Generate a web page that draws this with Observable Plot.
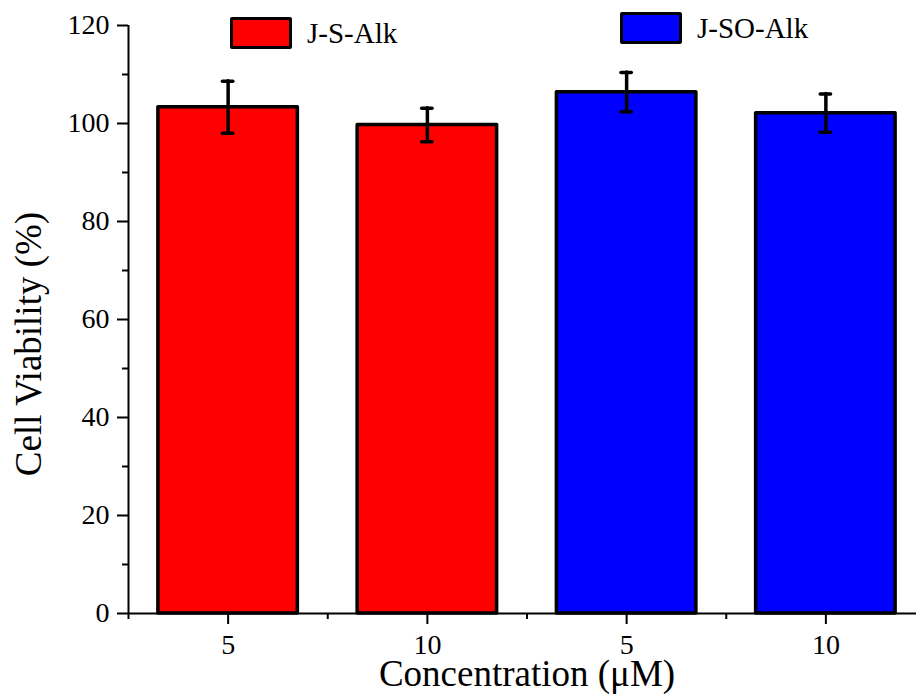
<!DOCTYPE html>
<html><head><meta charset="utf-8">
<script src="https://cdn.jsdelivr.net/npm/d3@7"></script>
<script src="https://cdn.jsdelivr.net/npm/@observablehq/plot@0.6"></script>
<style>
html,body{margin:0;padding:0;background:#fff;overflow:hidden;}
#wrap{position:relative;width:916px;height:697px;overflow:hidden;}
#wrap svg{max-width:none !important;display:block;}
#wrap svg text{font-family:"Liberation Serif","Times New Roman",serif !important;}
.leg{position:absolute;display:flex;align-items:center;font-family:"Liberation Serif","Times New Roman",serif;font-size:29px;color:#000;line-height:1;}
.sw{box-sizing:border-box;width:62px;height:32px;border:3.5px solid #000;border-radius:2px;margin-right:15px;}
</style></head><body><div id="wrap"></div>
<script>
// ---- data ----
const compounds = ["J-S-Alk", "J-S-Alk", "J-SO-Alk", "J-SO-Alk"];
const concentrations = ["5", "10", "5", "10"];
const viability = [103.3, 99.7, 106.4, 102.1];
const errors = [5.3, 3.4, 4.0, 3.9];
const seriesNames = ["J-S-Alk", "J-SO-Alk"];
const seriesColors = ["#FF0000", "#0000FF"];
const yTicks = [0, 20, 40, 60, 80, 100, 120];
const yMinorTicks = [10, 30, 50, 70, 90, 110];
const xTitle = "Concentration (\u03BCM)";
const yTitle = "Cell Viability (%)";

// ---- layout/style constants ----
const FONT = "'Liberation Serif', 'Times New Roman', serif";
const barHalf = 0.35;      // half bar width in category units
const capHalf = 0.026;     // half error cap width in category units
const legendPos = [{left: 230, top: 17}, {left: 620, top: 12}];

const data = compounds.map((c, i) => ({i, compound: c, conc: concentrations[i], v: viability[i], e: errors[i]}));
const xIndex = compounds.map((_, i) => i);
const xBounds = xIndex.map(i => i - 0.5).concat([xIndex.length - 0.5]);

const chart = Plot.plot({
  width: 925, height: 697,
  marginLeft: 128, marginRight: 0, marginTop: 25, marginBottom: 84,
  x: {type: "linear", domain: [-0.5, xIndex.length - 0.5]},
  y: {domain: [0, 120]},
  color: {domain: seriesNames, range: seriesColors},
  style: {fontFamily: FONT, fontSize: "28px", color: "#000", background: "#fff", overflow: "visible"},
  marks: [
    Plot.rectY(data, {x1: d => d.i - barHalf, x2: d => d.i + barHalf, y1: 0, y2: "v", fill: "compound", stroke: "#000", strokeWidth: 3.5, strokeLinejoin: "round"}),
    Plot.ruleX(data, {x: "i", y1: d => d.v - d.e, y2: d => d.v + d.e, stroke: "#000", strokeWidth: 3.5, strokeLinecap: "round"}),
    Plot.ruleY(data, {y: d => d.v + d.e, x1: d => d.i - capHalf, x2: d => d.i + capHalf, stroke: "#000", strokeWidth: 3.5, strokeLinecap: "round"}),
    Plot.ruleY(data, {y: d => d.v - d.e, x1: d => d.i - capHalf, x2: d => d.i + capHalf, stroke: "#000", strokeWidth: 3.5, strokeLinecap: "round"}),
    Plot.ruleX([-0.5], {y1: 0, y2: 120, stroke: "#000", strokeWidth: 2}),
    Plot.ruleY([0], {stroke: "#000", strokeWidth: 2}),
    Plot.axisY(yTicks, {tickSize: 11, tickPadding: 8, strokeWidth: 2, label: null, fontSize: 28, fontFamily: FONT, fill: "#000"}),
    Plot.axisY(yMinorTicks, {tickSize: 6, strokeWidth: 2, label: null, tickFormat: () => ""}),
    Plot.axisX(xIndex, {tickSize: 11, tickPadding: 10, strokeWidth: 2, label: null, fontSize: 28, fontFamily: FONT, fill: "#000", tickFormat: i => concentrations[i]}),
    Plot.axisX(xBounds, {tickSize: 6, strokeWidth: 2, label: null, tickFormat: () => ""}),
    Plot.text([xTitle], {frameAnchor: "bottom", textAnchor: "middle", lineAnchor: "middle", dy: 61, fontSize: 37, fontFamily: FONT, fill: "#000"}),
    Plot.text([yTitle], {frameAnchor: "left", textAnchor: "middle", lineAnchor: "middle", rotate: -90, dx: -99, dy: 24.5, fontSize: 37, fontFamily: FONT, fill: "#000"})
  ]
});
const wrap = document.getElementById("wrap");
wrap.appendChild(chart);

seriesNames.forEach((name, k) => {
  const item = document.createElement("div");
  item.className = "leg";
  item.style.left = legendPos[k].left + "px";
  item.style.top = legendPos[k].top + "px";
  const sw = document.createElement("div");
  sw.className = "sw";
  sw.style.background = seriesColors[k];
  const t = document.createElement("span");
  t.textContent = name;
  item.appendChild(sw);
  item.appendChild(t);
  wrap.appendChild(item);
});
</script></body></html>
